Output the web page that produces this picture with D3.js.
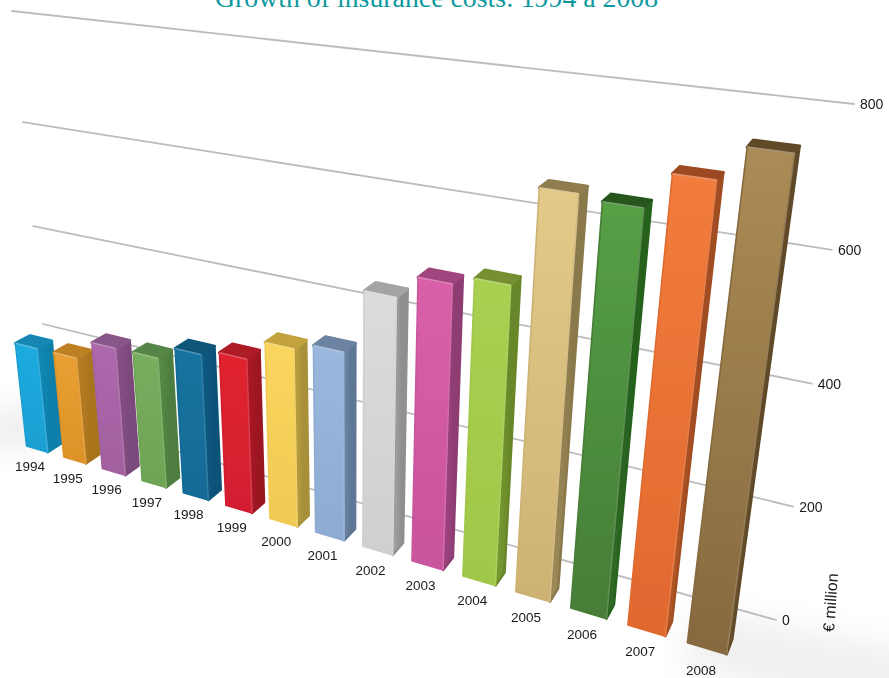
<!DOCTYPE html>
<html><head><meta charset="utf-8">
<script src="https://cdnjs.cloudflare.com/ajax/libs/d3/7.8.5/d3.min.js"></script>
<style>html,body{margin:0;padding:0;background:#fff;overflow:hidden}svg{display:block}</style>
</head><body><div id="chart"></div>
<script>
const title = "Growth of insurance costs: 1994 a 2008";
const unitLabel = "€ million";
const years = [1994,1995,1996,1997,1998,1999,2000,2001,2002,2003,2004,2005,2006,2007,2008];
const values = [214,215,254,255,282,294,332,346,457,496,511,662,656,708,756];
const valueTicks = [0,200,400,600,800];
const frontTop =    ["#1cabe0","#eaa032","#ad68ad","#78ae5e","#15739f","#e0222f","#fbd65e","#9ab8de","#dcdcda","#d95fa8","#a9d050","#e3ca88","#55a045","#f27c3c","#ab8c55"];
const frontBottom = ["#1a9fd2","#dc9327","#a2609f","#6da454","#126a96","#d21f30","#efc952","#8eabd2","#cfcfcd","#c9559c","#a0c748","#cdb274","#467d37","#e0692f","#86693f"];
const sideColours = ["#0f7fa8","#a9741f","#7b4a7c","#4d7d3f","#0d5378","#9c1722","#a8903a","#5f7694","#8f8f8d","#8d3c72","#688729","#8a794c","#25621f","#a04d22","#5f4a28"];
const topColours =  ["#1387b2","#bd8023","#885688","#578647","#0e5679","#ae1a26","#c2a33c","#6c83a2","#a4a4a2","#a0447d","#748f30","#8f7c50","#27561e","#9c4a22","#5f4a28"];

const W = 889, H = 678;
// perspective camera: the chart plane's four corners on the page, and the vanishing point of the depth axis
const cornerO = [52,416], cornerU = [776,620], cornerUV = [854,104], cornerV = [12,11];
const depthVanish = [1040,-190];
const depthFront = -0.040, depthBack = -0.0265, depthLabel = -0.05;
const labelShiftAt = d3.scaleLinear().domain([0,1]).range([3,-1]);
const bandFactorAt = d3.scaleLinear().domain([0,1]).range([0.92,1.04]);

const dx1 = cornerU[0]-cornerUV[0], dx2 = cornerV[0]-cornerUV[0], sx = cornerO[0]-cornerU[0]+cornerUV[0]-cornerV[0];
const dy1 = cornerU[1]-cornerUV[1], dy2 = cornerV[1]-cornerUV[1], sy = cornerO[1]-cornerU[1]+cornerUV[1]-cornerV[1];
const den = dx1*dy2-dx2*dy1;
const g = (sx*dy2-dx2*sy)/den, h = (dx1*sy-sx*dy1)/den;
const a = cornerU[0]-cornerO[0]+g*cornerU[0], b = cornerV[0]-cornerO[0]+h*cornerV[0];
const d_ = cornerU[1]-cornerO[1]+g*cornerU[1], e = cornerV[1]-cornerO[1]+h*cornerV[1];
function project(u,v,q){
  const w = g*u+h*v+1+q;
  return [(a*u+b*v+cornerO[0]+q*depthVanish[0])/w,(d_*u+e*v+cornerO[1]+q*depthVanish[1])/w];
}
const uScale = d3.scaleBand().domain(years).range([0.0275,0.9635]).paddingInner(0.38);
const vScale = d3.scaleLinear().domain([0,800]).range([0,1]);
const toPath = pts => "M"+pts.map(p=>p[0].toFixed(2)+","+p[1].toFixed(2)).join("L")+"Z";
const toLine = pts => "M"+pts.map(p=>p[0].toFixed(2)+","+p[1].toFixed(2)).join("L");

const svg = d3.select("#chart").append("svg").attr("width",W).attr("height",H).attr("viewBox",[0,0,W,H]);
const defs = svg.append("defs");
defs.append("filter").attr("id","soft").attr("filterUnits","userSpaceOnUse").attr("x",0).attr("y",0).attr("width",W).attr("height",H)
  .append("feGaussianBlur").attr("stdDeviation",0.7);
defs.append("filter").attr("id","line").attr("filterUnits","userSpaceOnUse").attr("x",0).attr("y",0).attr("width",W).attr("height",H)
  .append("feGaussianBlur").attr("stdDeviation",0.4);
defs.append("filter").attr("id","shadow").attr("filterUnits","userSpaceOnUse").attr("x",-100).attr("y",250).attr("width",1100).attr("height",600)
  .append("feGaussianBlur").attr("stdDeviation",15);
years.forEach((y,i)=>{
  const gf = defs.append("linearGradient").attr("id","f"+i).attr("x1",0).attr("y1",0).attr("x2",0).attr("y2",1);
  gf.append("stop").attr("offset",0).attr("stop-color",frontTop[i]);
  gf.append("stop").attr("offset",1).attr("stop-color",frontBottom[i]);
  const gs = defs.append("linearGradient").attr("id","s"+i).attr("x1",0).attr("y1",0).attr("x2",1).attr("y2",0);
  gs.append("stop").attr("offset",0).attr("stop-color",d3.interpolateRgb(sideColours[i],frontBottom[i])(0.35));
  gs.append("stop").attr("offset",0.6).attr("stop-color",sideColours[i]);
  gs.append("stop").attr("offset",1).attr("stop-color",sideColours[i]);
});

// floor shadows
const shadows = svg.append("g").attr("filter","url(#shadow)").attr("fill","#000");
shadows.append("path").attr("opacity",0.075).attr("d",toPath([project(-0.06,0.02,-0.01),project(0.03,0.04,-0.01),project(0.03,0,-0.045),project(-0.06,-0.02,-0.045)]));
shadows.append("path").attr("opacity",0.06).attr("d",toPath([project(0.92,0,-0.01),project(1.25,0.04,0),project(1.25,-0.05,-0.04),project(0.92,-0.05,-0.04)]));

// title
svg.append("text").attr("x",215).attr("y",6.5).attr("font-family","'Liberation Serif',serif").attr("font-size",27.8).attr("fill","#0f9aa0").text(title);

// grid lines
const grid = svg.append("g").attr("filter","url(#line)");
grid.selectAll("path").data(vScale.ticks(4)).join("path")
  .attr("d",t=>toLine([project(0,vScale(t),0),project(1,vScale(t),0)]))
  .attr("fill","none").attr("stroke","#bcbcbf").attr("stroke-width",1.8).attr("stroke-linecap","round");
const tickText = svg.append("g").attr("font-family","'Liberation Sans',Arial,sans-serif").attr("font-size",14).attr("fill","#1a1a1a");
tickText.selectAll("text").data(valueTicks).join("text")
  .attr("x",t=>project(1,vScale(t),0)[0]+6)
  .attr("y",t=>project(1,vScale(t),0)[1]+1.5)
  .attr("dominant-baseline","middle")
  .text(t=>t);

// bars
const bars = svg.append("g").attr("filter","url(#soft)");
years.forEach((y,i)=>{
  const uL = uScale(y), uR = uL+uScale.bandwidth()*bandFactorAt(uL), v = vScale(values[i]);
  const g1 = bars.append("g").attr("stroke-linejoin","round");
  const side = [project(uR,v,depthFront),project(uR,v,depthBack),project(uR,0,depthBack),project(uR,0,depthFront)];
  const top = [project(uL,v,depthFront),project(uL,v,depthBack),project(uR,v,depthBack),project(uR,v,depthFront)];
  const front = [project(uL,v,depthFront),project(uR,v,depthFront),project(uR,0,depthFront),project(uL,0,depthFront)];
  g1.append("path").attr("d",toPath(side)).attr("fill","url(#s"+i+")").attr("stroke",sideColours[i]).attr("stroke-width",2.4);
  g1.append("path").attr("d",toPath(top)).attr("fill",topColours[i]).attr("stroke",topColours[i]).attr("stroke-width",3);
  g1.append("path").attr("d",toPath(front)).attr("fill","url(#f"+i+")").attr("stroke",frontBottom[i]).attr("stroke-width",1.6);
  g1.append("path").attr("d",toLine([project(uL,v,depthFront),project(uR,v,depthFront)]))
    .attr("fill","none").attr("stroke","#fff").attr("stroke-opacity",0.28).attr("stroke-width",1.6);
  g1.append("path").attr("d",toLine([project(uR,v,depthFront),project(uR,0,depthFront)]))
    .attr("fill","none").attr("stroke","#fff").attr("stroke-opacity",0.14).attr("stroke-width",1.6);
});

// year labels
const yearText = svg.append("g").attr("font-family","'Liberation Sans',Arial,sans-serif").attr("font-size",13.5).attr("fill","#1a1a1a").attr("text-anchor","middle");
const labelAt = y => { const u = uScale(y)+uScale.bandwidth()*0.5; const p = project(u,0,depthLabel); return [p[0]+labelShiftAt(u),p[1]+15]; };
yearText.selectAll("text").data(years).join("text")
  .attr("x",y=>labelAt(y)[0])
  .attr("y",y=>labelAt(y)[1])
  .text(y=>y);

svg.append("text").attr("transform","translate(836,603) rotate(-86)").attr("text-anchor","middle")
  .attr("font-family","'Liberation Sans',Arial,sans-serif").attr("font-size",16).attr("fill","#1a1a1a").text(unitLabel);
</script></body></html>
